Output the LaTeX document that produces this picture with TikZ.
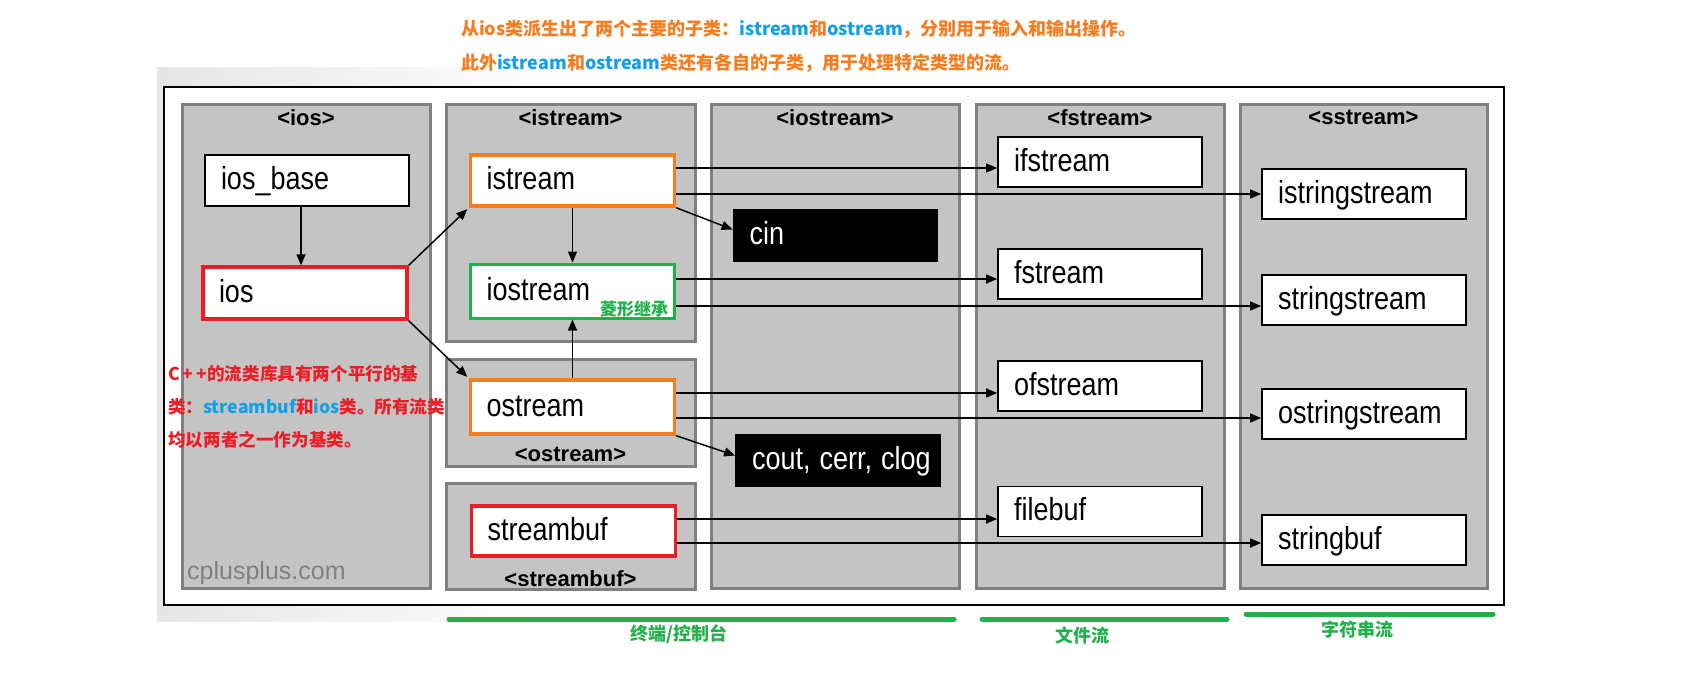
\documentclass[tikz,border=0pt]{standalone}
\usepackage{fontspec}
\usepackage{graphicx}
\setmainfont{Liberation Sans}
\newfontfamily\cjk{Noto Sans CJK SC}
\usetikzlibrary{arrows.meta}
\definecolor{panelfill}{RGB}{196,196,196}
\definecolor{paneldraw}{RGB}{128,128,128}
\definecolor{orng}{RGB}{245,125,32}
\definecolor{blu}{RGB}{20,160,230}
\definecolor{rd}{RGB}{235,30,40}
\definecolor{grn}{RGB}{34,176,75}
\newcommand\st[1]{\scalebox{1}[1.18]{#1}}
\newcommand\boxfont{\fontsize{27pt}{30pt}\selectfont}
\begin{document}
\begin{tikzpicture}[x=1pt,y=-1pt,
  panel/.style={draw=paneldraw,line width=3pt,fill=panelfill,inner sep=0pt},
  hdr/.style={font=\fontsize{22pt}{24pt}\selectfont\bfseries,inner sep=0pt},
  box/.style={draw=black,line width=1.8pt,fill=white,text width=172pt,inner xsep=16pt,inner ysep=0pt,align=left,minimum height=51pt,text height=24pt,text depth=6pt,font=\boxfont},
  blackbox/.style={box,fill=black,text=white},
  arr/.style={-{Triangle[length=11pt,width=9pt]},line width=1.5pt},
  note/.style={font=\cjk\bfseries\fontsize{17.6pt}{20pt}\selectfont,inner sep=0pt,anchor=base west},
  top/.style={font=\cjk\bfseries\fontsize{18pt}{20pt}\selectfont,inner sep=0pt,anchor=base west,text=orng},
  glabel/.style={font=\cjk\bfseries\fontsize{17pt}{20pt}\selectfont,inner sep=0pt,text=grn},
  blabel/.style={font=\cjk\bfseries\fontsize{18pt}{20pt}\selectfont,inner sep=0pt,text=grn},
  gbar/.style={draw=grn,line width=5pt,line cap=round}]
\useasboundingbox (0,0) rectangle (1704,672);
\fill[white] (0,0) rectangle (1704,672);
\shade[left color=black!10,right color=white] (157,67) rectangle (560,621);
\draw[line width=2pt,fill=white] (164,87) rectangle (1504,605);
% panels
\node[panel,minimum width=248pt,minimum height=484pt] (Pios) at (306,346) {};
\node[panel,minimum width=249pt,minimum height=237pt] (Pistream) at (570.5,222.5) {};
\node[panel,minimum width=249pt,minimum height=107pt] (Postream) at (570.5,412.5) {};
\node[panel,minimum width=249pt,minimum height=106pt] (Pstreambuf) at (570.5,536) {};
\node[panel,minimum width=248pt,minimum height=484pt] (Piostream) at (835,346) {};
\node[panel,minimum width=248pt,minimum height=484pt] (Pfstream) at (1100,346) {};
\node[panel,minimum width=247pt,minimum height=484pt] (Psstream) at (1363.5,346) {};
\node[hdr] (Hios) at ([yshift=-15pt]Pios.north) {\textless ios\textgreater};
\node[hdr] (Histream) at ([yshift=-15pt]Pistream.north) {\textless istream\textgreater};
\node[hdr] (Hostream) at ([yshift=13pt]Postream.south) {\textless ostream\textgreater};
\node[hdr] (Hstreambuf) at ([yshift=12pt]Pstreambuf.south) {\textless streambuf\textgreater};
\node[hdr] (Hiostream) at ([yshift=-15pt]Piostream.north) {\textless iostream\textgreater};
\node[hdr] (Hfstream) at ([yshift=-15pt]Pfstream.north) {\textless fstream\textgreater};
\node[hdr] (Hsstream) at ([yshift=-15pt]Psstream.north) {\textless sstream\textgreater};
\node[anchor=west,inner sep=0pt,text=black!50,font=\fontsize{25pt}{27pt}\selectfont] (wm) at (187,573) {cplusplus.com};
% boxes
\node[box] (iosbase) at (307,180.5) {\st{ios\_base}};
\node[box,draw=rd,line width=3.5pt,minimum height=52pt] (ios) at (305,293) {\st{ios}};
\node[box,draw=orng,line width=3.5pt] (istream) at (572.5,180.5) {\st{istream}};
\node[box,draw=grn,line width=3pt,minimum height=54pt] (iostream) at (572.5,291) {\st{iostream}};
\node[box,draw=orng,line width=3.5pt,minimum height=54pt] (ostream) at (572.5,407) {\st{ostream}};
\node[box,draw=rd,line width=3.5pt,minimum height=50pt] (streambuf) at (573.5,531) {\st{streambuf}};
\node[blackbox] (cin) at (835.5,235.5) {\st{cin}};
\node[blackbox] (cout) at (838,460.5) {\st{cout, cerr, clog}};
\node[box,minimum height=50pt] (ifstream) at (1100,162) {\st{ifstream}};
\node[box,minimum height=50pt] (fstream) at (1100,274) {\st{fstream}};
\node[box,minimum height=50pt] (ofstream) at (1100,386) {\st{ofstream}};
\node[box,minimum height=50pt] (filebuf) at (1100,511.5) {\st{filebuf}};
\node[box,minimum height=50pt] (istringstream) at (1364,194) {\st{istringstream}};
\node[box,minimum height=50pt] (stringstream) at (1364,300) {\st{stringstream}};
\node[box,minimum height=50pt] (ostringstream) at (1364,414) {\st{ostringstream}};
\node[box,minimum height=50pt] (stringbuf) at (1364,540) {\st{stringbuf}};
% connectors
\draw[arr] ([xshift=-6pt]iosbase.south) -- ([xshift=-6pt]iosbase.south |- ios.north);
\draw[arr,shorten >=2pt] (ios.north east) -- (istream.south west);
\draw[arr,shorten >=2pt] (ios.south east) -- (ostream.north west);
\draw[arr] (istream.south) -- (iostream.north);
\draw[arr] (ostream.north) -- (iostream.south);
\draw[arr] (istream.south east) -- ([yshift=6pt]cin.west);
\draw[arr] (ostream.south east) -- ([yshift=5pt]cout.west);
\draw[arr] (istream.east |- 0,168) -- (ifstream.west |- 0,168);
\draw[arr] (istream.east |- 0,194) -- (istringstream.west |- 0,194);
\draw[arr] (iostream.east |- 0,279) -- (fstream.west |- 0,279);
\draw[arr] (iostream.east |- 0,306) -- (stringstream.west |- 0,306);
\draw[arr] (ostream.east |- 0,393) -- (ofstream.west |- 0,393);
\draw[arr] (ostream.east |- 0,418) -- (ostringstream.west |- 0,418);
\draw[arr] (streambuf.east |- 0,519) -- (filebuf.west |- 0,519);
\draw[arr] (streambuf.east |- 0,543) -- (stringbuf.west |- 0,543);
% annotations
\node[top] (t1) at (461,35) {从ios类派生出了两个主要的子类：\textcolor{blu}{istream}和\textcolor{blu}{ostream}，分别用于输入和输出操作。};
\node[top] (t2) at (461,69) {此外\textcolor{blu}{istream}和\textcolor{blu}{ostream}类还有各自的子类，用于处理特定类型的流。};
\node[note,text=rd] (r1) at (168,380.5) {C\,+\,+的流类库具有两个平行的基};
\node[note,text=rd] (r2) at (168,413.5) {类：\textcolor{blu}{streambuf}和\textcolor{blu}{ios}类。所有流类};
\node[note,text=rd] (r3) at (168,446.5) {均以两者之一作为基类。};
\node[glabel] (diamond) at (634,309) {菱形继承};
\coordinate (b1a) at (449,619); \coordinate (b1b) at (954,619);
\coordinate (b2a) at (982,619); \coordinate (b2b) at (1227,619);
\coordinate (b3a) at (1246,614); \coordinate (b3b) at (1493,614);
\draw[gbar] (b1a) -- (b1b);
\draw[gbar] (b2a) -- (b2b);
\draw[gbar] (b3a) -- (b3b);
\node[blabel] (g1) at (679,634) {终端/控制台};
\node[blabel] (g2) at (1082,636) {文件流};
\node[blabel] (g3) at (1357,630) {字符串流};
\end{tikzpicture}
\end{document}
